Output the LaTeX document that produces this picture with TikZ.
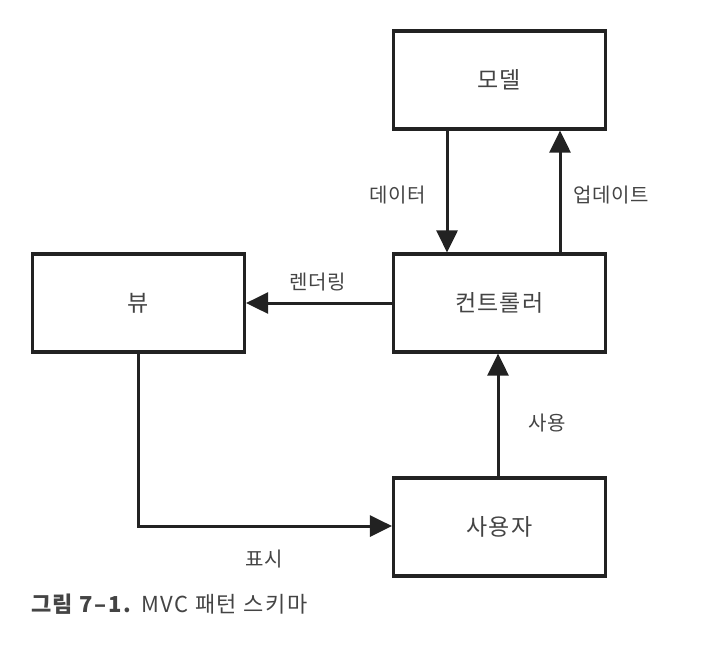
\documentclass[tikz,border=0pt]{standalone}
\usepackage{fontspec}
\setmainfont{Noto Sans CJK KR}
\newfontfamily\capfont[LetterSpace=7]{Noto Sans CJK KR}
\newfontfamily\lblfont[LetterSpace=4]{Noto Sans CJK KR}
\usetikzlibrary{arrows.meta}
\definecolor{ink}{HTML}{222222}
\definecolor{txt}{HTML}{444444}
\begin{document}
\begin{tikzpicture}[x=1pt,y=-1pt,
  box/.style={draw=ink,line width=3.2pt,minimum width=212pt,minimum height=98pt,inner sep=0pt,text=txt,font=\lblfont\fontsize{23}{26}\selectfont},
  conn/.style={draw=ink,line width=3pt,-{Triangle[length=22pt,width=21pt]}},
  lbl/.style={text=txt,font=\lblfont\fontsize{20}{23}\selectfont,inner sep=0pt}]
\useasboundingbox (0,0) rectangle (706,648);
\node[box] (model) at (499.5,80) {모델};
\node[box] (ctrl) at (499.5,303) {컨트롤러};
\node[box] (view) at (138.5,303) {뷰};
\node[box] (user) at (499.5,527) {사용자};
\coordinate (bend) at (138,526);
\draw[conn] (model.south -| 447,0) -- (ctrl.north -| 447,0);
\draw[conn] (ctrl.north -| 560,0) -- (model.south -| 560,0);
\draw[conn] (ctrl.west) -- (view.east);
\draw[conn] (user.north -| 498,0) -- (ctrl.south -| 498,0);
\draw[conn] (view.south -| bend) -- (bend) -- (user.west |- bend);
\node[lbl] (l1) at (398,195) {데이터};
\node[lbl] (l2) at (611,195) {업데이트};
\node[lbl] (l3) at (318,282) {렌더링};
\node[lbl] (l4) at (547,423) {사용};
\node[lbl] (l5) at (264,559) {표시};
\node[anchor=base west,inner sep=0pt,text=txt,font=\capfont\fontsize{22}{25}\selectfont] (cap) at (31,612) {\textbf{그림 7–1.} MVC 패턴 스키마};
\end{tikzpicture}
\end{document}
